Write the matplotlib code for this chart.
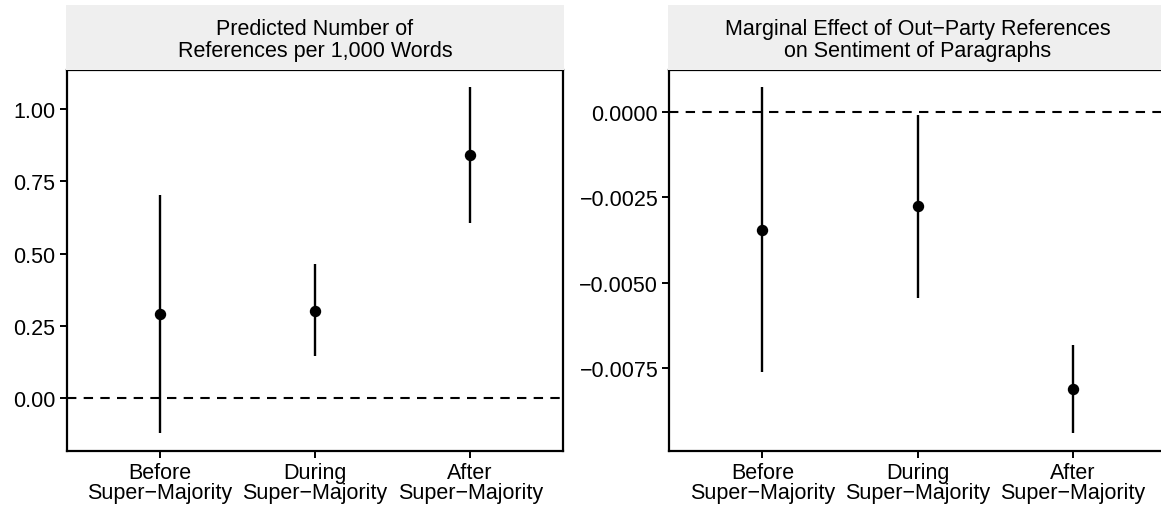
import numpy as np
import matplotlib.pyplot as plt
from matplotlib.ticker import FuncFormatter

# --------------------------
# Data
# --------------------------
periods = ['Before\nSuper\u2212Majority', 'During\nSuper\u2212Majority', 'After\nSuper\u2212Majority']

# Panel 1: predicted number of references per 1,000 words
refs_est = [0.291, 0.303, 0.840]
refs_low = [-0.121, 0.145, 0.607]
refs_high = [0.703, 0.463, 1.074]

# Panel 2: marginal effect on sentiment
sent_est = [-0.00346, -0.00275, -0.00812]
sent_low = [-0.00762, -0.00544, -0.00942]
sent_high = [0.00073, -0.00007, -0.00683]

titles = [['Predicted Number of', 'References per 1,000 Words'],
          ['Marginal Effect of Out\u2212Party References', 'on Sentiment of Paragraphs']]

plt.rcParams['font.family'] = ['Liberation Sans', 'DejaVu Sans']
FS = 15.5

fig = plt.figure(figsize=(11.61, 5.10), dpi=100)
W, H = 1161, 510

def px_axes(x0, y0, x1, y1):
    # pixel box (top-left origin) -> figure axes
    return fig.add_axes([x0 / W, 1 - y1 / H, (x1 - x0) / W, (y1 - y0) / H])

panels = [
    (refs_est, refs_low, refs_high, [0.0, 0.25, 0.5, 0.75, 1.0], '{:.2f}'),
    (sent_est, sent_low, sent_high, [0.0, -0.0025, -0.005, -0.0075], '{:.4f}'),
]
lefts = [66.7, 669.3]
width = 496.6
top, bottom = 71, 451.7

for i, (est, low, high, ticks, fmt) in enumerate(panels):
    x0 = lefts[i]
    ax = px_axes(x0, top, x0 + width, bottom)
    pos = np.arange(1, len(periods) + 1)
    ax.vlines(pos, low, high, color='black', lw=1.7)
    ax.plot(pos, est, 'o', color='black', ms=7.2)
    ax.axhline(0, color='black', lw=1.5, ls=(0, (4.5, 3.5)))
    ax.set_xlim(0.4, 3.6)
    # ggplot style 5% expansion of the data range
    lo, hi = min(low), max(high)
    pad = 0.05 * (hi - lo)
    ax.set_ylim(lo - pad, hi + pad)
    ax.set_xticks(pos)
    ax.set_xticklabels(periods, fontsize=FS, linespacing=0.95)
    ax.set_yticks(ticks)
    ax.yaxis.set_major_formatter(
        FuncFormatter(lambda v, p, f=fmt: f.format(v).replace('-', '\u2212')))
    ax.tick_params(axis='both', length=5, width=1.4, labelsize=FS, pad=3, color='black')
    for s in ax.spines.values():
        s.set_linewidth(1.6)
        s.set_color('black')

    # strip on top of the panel
    st = px_axes(x0 - 1, 6, x0 + width + 1, top)
    st.set_facecolor('#EFEFEF')
    st.set_xticks([])
    st.set_yticks([])
    for s in st.spines.values():
        s.set_visible(False)
    st.set_ylim(top - 6, 0)
    st.set_xlim(0, 1)
    for baseline, line in zip([29, 50.7], titles[i]):
        st.text(0.5, baseline, line, ha='center', va='baseline', fontsize=FS)

plt.savefig('out.png', dpi=100)
